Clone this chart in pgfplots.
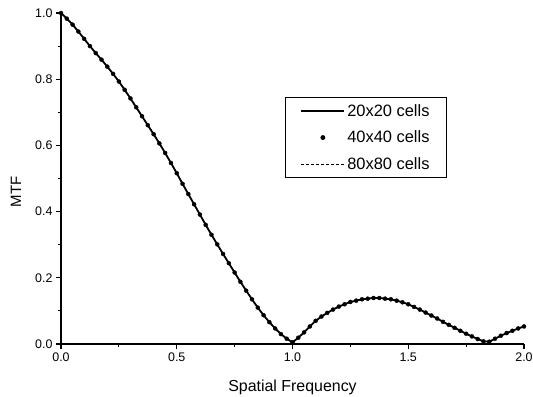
\documentclass[border=0pt]{standalone}
\usepackage{fontspec}
\setmainfont{Liberation Sans}
\usepackage{pgfplots}
\pgfplotsset{compat=1.18}
\usepackage{pgfplotstable}

\pgfplotstableread{
f v
0.000 1.000
0.025 0.983
0.050 0.965
0.075 0.944
0.100 0.922
0.125 0.900
0.150 0.879
0.175 0.859
0.200 0.838
0.225 0.816
0.250 0.793
0.275 0.768
0.300 0.742
0.325 0.715
0.350 0.688
0.375 0.661
0.400 0.634
0.425 0.606
0.450 0.577
0.475 0.547
0.500 0.516
0.525 0.484
0.550 0.453
0.575 0.422
0.600 0.391
0.625 0.360
0.650 0.330
0.675 0.301
0.700 0.272
0.725 0.244
0.750 0.216
0.775 0.188
0.800 0.161
0.825 0.135
0.850 0.110
0.875 0.087
0.900 0.066
0.925 0.047
0.950 0.030
0.975 0.016
1.000 0.005
1.025 0.019
1.050 0.035
1.075 0.053
1.100 0.070
1.125 0.083
1.150 0.094
1.175 0.104
1.200 0.113
1.225 0.120
1.250 0.127
1.275 0.131
1.300 0.135
1.325 0.137
1.350 0.139
1.375 0.139
1.400 0.137
1.425 0.135
1.450 0.131
1.475 0.126
1.500 0.120
1.525 0.112
1.550 0.104
1.575 0.095
1.600 0.086
1.625 0.077
1.650 0.067
1.675 0.058
1.700 0.049
1.725 0.040
1.750 0.031
1.775 0.023
1.800 0.015
1.825 0.008
1.850 0.007
1.875 0.016
1.900 0.025
1.925 0.033
1.950 0.040
1.975 0.047
2.000 0.053
}\mtf

\begin{document}
\begin{tikzpicture}
\begin{axis}[
  scale only axis, width=463bp, height=331bp,
  xmin=0, xmax=2, ymin=0, ymax=1,
  axis x line=bottom, axis y line=left,
  axis line style={-, line width=1.4bp},
  xtick={0,0.5,1,1.5,2}, minor xtick={0.25,0.75,1.25,1.75},
  ytick={0,0.2,0.4,0.6,0.8,1}, minor ytick={0.1,0.3,0.5,0.7,0.9},
  tick align=outside, major tick length=5bp, minor tick length=3bp,
  every tick/.style={black, line width=1.1bp},
  /pgf/number format/fixed, /pgf/number format/fixed zerofill,
  /pgf/number format/precision=1,
  /pgf/number format/assume math mode=true,
  ticklabel style={font=\fontsize{12.5}{14}\selectfont},
  xlabel={Spatial Frequency}, ylabel={MTF},
  every axis x label/.style={at={(axis description cs:0.5,-0.13)}, anchor=center, font=\fontsize{16}{18}\selectfont},
  every axis y label/.style={at={(axis description cs:-0.097,0.46)}, rotate=90, anchor=center, font=\fontsize{15}{17}\selectfont},
  legend style={at={(0.484,0.746)}, anchor=north west, draw=black,
    line width=0.8bp, font=\fontsize{16.5}{18}\selectfont,
    nodes={font=\fontsize{16.5}{18}\selectfont},
    row sep=9bp, inner ysep=5bp, inner xsep=15bp},
  legend cell align=left,
  legend image code/.code={\draw[mark repeat=2,mark phase=2,#1]
    plot coordinates {(0bp,0bp) (21.5bp,0bp) (43bp,0bp)};},
]
\addplot[black, line width=1.8bp, no marks] table[x=f,y=v]{\mtf};
\addlegendentry{20x20 cells}
\addplot[black, only marks, mark=*, mark size=2bp] table[x=f,y=v]{\mtf};
\addlegendentry{40x40 cells}
\addplot[black, line width=0.9bp, dash pattern=on 3bp off 2bp, no marks] table[x=f,y=v]{\mtf};
\addlegendentry{80x80 cells}
\end{axis}
\pgfresetboundingbox
\path[use as bounding box] ([shift={(-61bp,-53bp)}]current axis.south west) rectangle ([shift={(9bp,13bp)}]current axis.north east);
\end{tikzpicture}
\end{document}
